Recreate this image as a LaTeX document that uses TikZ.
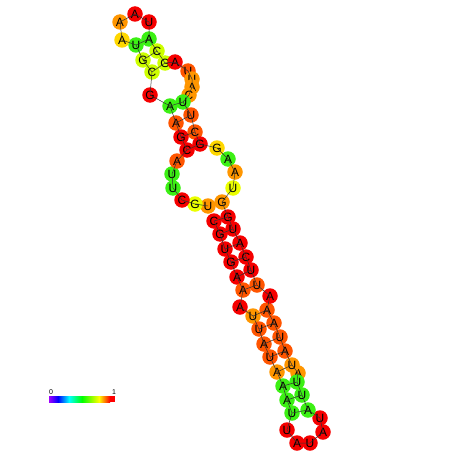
\documentclass[tikz,border=0pt]{standalone}
\usepackage{fontspec}
\setmainfont{Liberation Sans}
\usetikzlibrary{positioning}

\definecolor{ntred}{RGB}{245,0,0}
\definecolor{ntorred}{RGB}{255,85,0}
\definecolor{ntorange}{RGB}{255,150,0}
\definecolor{ntgold}{RGB}{255,215,0}
\definecolor{ntyellow}{RGB}{235,255,0}
\definecolor{ntlime}{RGB}{205,255,0}
\definecolor{ntgreen}{RGB}{60,240,20}

\tikzset{
  nt/.style={circle, minimum size=15.5pt, inner sep=0pt,
    font=\fontsize{12}{12}\selectfont},
  bb/.style={draw=black!80, line width=0.5pt},
  bp/.style={draw=black!80, line width=0.5pt},
}

\begin{document}
\begin{tikzpicture}[x=1pt, y=-1pt]
  \useasboundingbox (0,0) rectangle (452,452);
  % top hairpin
  \node[nt, fill=ntorange] (a1) at (120,22) {A};
  \node[nt, fill=ntred] (a2) at (135,14) {A};
  \node[nt, fill=ntred] (a3) at (149,22) {U};
  \node[nt, fill=ntgreen] (a4) at (149,39) {A};
  \node[nt, fill=ntgreen] (a5) at (136,45) {U};
  \node[nt, fill=ntgold] (a6) at (122,40) {A};
  \node[nt, fill=ntlime] (a7) at (143,60) {G};
  \node[nt, fill=ntlime] (a8) at (157,51) {C};
  \node[nt, fill=ntlime] (a9) at (165,63) {G};
  \node[nt, fill=ntred] (a10) at (175,62) {A};
  \node[nt, fill=ntlime] (a11) at (152,72) {C};
  \node[nt, fill=ntorred] (a12) at (188,71) {U};
  \node[nt, fill=ntorange] (a13) at (192,79) {U};
  \node[nt, fill=ntorange] (a14) at (192,87) {A};
  \node[nt, fill=ntorange] (a15) at (189,95) {C};
  \node[nt, fill=ntred] (a16) at (150,95) {G};
  % upper stem
  \node[nt, fill=ntgreen] (a17) at (170,106) {A};
  \node[nt, fill=ntgreen] (a18) at (183,102) {U};
  \node[nt, fill=ntorred] (a19) at (191,115) {U};
  \node[nt, fill=ntorred] (a20) at (176,123) {A};
  \node[nt, fill=ntorred] (a21) at (195,132) {C};
  \node[nt, fill=ntred] (a22) at (181,137) {G};
  \node[nt, fill=ntred] (a23) at (200,144) {G};
  \node[nt, fill=ntred] (a24) at (187,150) {C};
  % middle loop
  \node[nt, fill=ntgold] (b1) at (217,148) {G};
  \node[nt, fill=ntgreen] (b2) at (228,159) {A};
  \node[nt, fill=ntorange] (b3) at (235,172) {A};
  \node[nt, fill=ntyellow] (b4) at (233,188) {U};
  \node[nt, fill=ntorange] (b5) at (222,202) {G};
  \node[nt, fill=ntorange] (b6) at (208,206) {U};
  \node[nt, fill=ntyellow] (b7) at (195,204) {G};
  \node[nt, fill=ntred] (b8) at (182,200) {C};
  \node[nt, fill=ntgreen] (b9) at (173,188) {U};
  \node[nt, fill=ntgreen] (b10) at (172,174) {U};
  \node[nt, fill=ntorred] (b11) at (177,161) {A};
  % lower stem, left strand
  \node[nt, fill=ntred] (c1) at (214,221) {C};
  \node[nt, fill=ntred] (c2) at (220,234) {G};
  \node[nt, fill=ntred] (c3) at (225,249) {U};
  \node[nt, fill=ntred] (c4) at (231,262) {G};
  \node[nt, fill=ntred] (c5) at (237,277) {A};
  \node[nt, fill=ntorred] (c6) at (243,290) {A};
  \node[nt, fill=ntred] (c7) at (240,307) {A};
  \node[nt, fill=ntorange] (c8) at (253,316) {U};
  \node[nt, fill=ntorred] (c9) at (259,329) {U};
  \node[nt, fill=ntorred] (c10) at (264,344) {A};
  \node[nt, fill=ntorred] (c11) at (270,357) {U};
  \node[nt, fill=ntorange] (c12) at (277,372) {A};
  \node[nt, fill=ntgreen] (c13) at (283,386) {A};
  \node[nt, fill=ntgreen] (c14) at (287,400) {A};
  \node[nt, fill=ntgreen] (c15) at (292,413) {U};
  % bottom hairpin
  \node[nt, fill=ntred] (h1) at (287,430) {U};
  \node[nt, fill=ntred] (h2) at (297,443) {A};
  \node[nt, fill=ntred] (h3) at (310,443) {U};
  \node[nt, fill=ntred] (h4) at (323,432) {A};
  \node[nt, fill=ntred] (h5) at (320,418) {U};
  % lower stem, right strand
  \node[nt, fill=ntgreen] (d15) at (308,410) {A};
  \node[nt, fill=ntgreen] (d14) at (302,395) {U};
  \node[nt, fill=ntorange] (d13) at (298,373) {A};
  \node[nt, fill=ntgreen] (d12) at (297,382) {U};
  \node[nt, fill=ntorange] (d11) at (292,365) {U};
  \node[nt, fill=ntorred] (d10) at (285,351) {A};
  \node[nt, fill=ntorred] (d9) at (280,337) {U};
  \node[nt, fill=ntorred] (d8) at (274,323) {A};
  \node[nt, fill=ntorred] (d7) at (267,310) {A};
  \node[nt, fill=ntred] (d6) at (270,296) {A};
  \node[nt, fill=ntorred] (d5) at (257,285) {U};
  \node[nt, fill=ntred] (d4) at (251,270) {U};
  \node[nt, fill=ntred] (d3) at (246,257) {C};
  \node[nt, fill=ntred] (d2) at (240,243) {A};
  \node[nt, fill=ntred] (d1) at (233,229) {U};
  \node[nt, fill=ntred] (d0) at (228,217) {G};

  % backbone
  \draw[bb] (b6.center) -- (b7.center) -- (b8.center) -- (b9.center)
    -- (b10.center) -- (b11.center) -- (a24.center) -- (a22.center)
    -- (a20.center) -- (a17.center) -- (a16.center) -- (a11.center)
    -- (a7.center) -- (a5.center) -- (a6.center) -- (a1.center)
    -- (a2.center) -- (a3.center) -- (a4.center) -- (a8.center)
    -- (a9.center) -- (a10.center) -- (a12.center) -- (a13.center)
    -- (a14.center) -- (a15.center) -- (a18.center) -- (a19.center)
    -- (a21.center) -- (a23.center) -- (b1.center) -- (b2.center)
    -- (b3.center) -- (b4.center) -- (b5.center) -- (d0.center)
    -- (d1.center) -- (d2.center) -- (d3.center) -- (d4.center)
    -- (d5.center) -- (d6.center) -- (d7.center) -- (d8.center)
    -- (d9.center) -- (d10.center) -- (d11.center) -- (d13.center)
    -- (d12.center) -- (d14.center) -- (d15.center) -- (h5.center)
    -- (h4.center) -- (h3.center) -- (h2.center) -- (h1.center)
    -- (c15.center) -- (c14.center) -- (c13.center) -- (c12.center)
    -- (c11.center) -- (c10.center) -- (c9.center) -- (c8.center)
    -- (c7.center) -- (c6.center) -- (c5.center) -- (c4.center)
    -- (c3.center) -- (c2.center) -- (c1.center);
  % base pairs
  \draw[bp] (a5.center) -- (a4.center);
  \draw[bp] (a7.center) -- (a8.center);
  \draw[bp] (a11.center) -- (a9.center);
  \draw[bp] (a17.center) -- (a18.center);
  \draw[bp] (a20.center) -- (a19.center);
  \draw[bp] (a22.center) -- (a21.center);
  \draw[bp] (a24.center) -- (a23.center);
  \draw[bp] (c1.center) -- (d0.center);
  \draw[bp] (c2.center) -- (d1.center);
  \draw[bp] (c3.center) -- (d2.center);
  \draw[bp] (c4.center) -- (d3.center);
  \draw[bp] (c5.center) -- (d4.center);
  \draw[bp] (c6.center) -- (d5.center);
  \draw[bp] (c8.center) -- (d7.center);
  \draw[bp] (c9.center) -- (d8.center);
  \draw[bp] (c10.center) -- (d9.center);
  \draw[bp] (c11.center) -- (d10.center);
  \draw[bp] (c12.center) -- (d11.center);
  \draw[bp] (c13.center) -- (d12.center);
  \draw[bp] (c14.center) -- (d14.center);
  \draw[bp] (c15.center) -- (d15.center);

  % colour scale
  \shade[left color={rgb,255:red,160;green,0;blue,255}, right color=blue] (49,396) rectangle (58,402);
  \shade[left color=blue, right color=cyan] (58,396) rectangle (69,402);
  \shade[left color=cyan, right color={rgb,255:red,0;green,255;blue,0}] (69,396) rectangle (82,402);
  \shade[left color={rgb,255:red,0;green,255;blue,0}, right color=yellow] (82,396) rectangle (99,402);
  \shade[left color=yellow, right color=red] (99,396) rectangle (110,402);
  \fill[red] (110,396) rectangle (115,402);
  \node[font=\fontsize{7}{7}\selectfont, inner sep=0pt] (lo) at (51,392) {0};
  \node[font=\fontsize{7}{7}\selectfont, inner sep=0pt] (hi) at (114,392) {1};
\end{tikzpicture}
\end{document}
